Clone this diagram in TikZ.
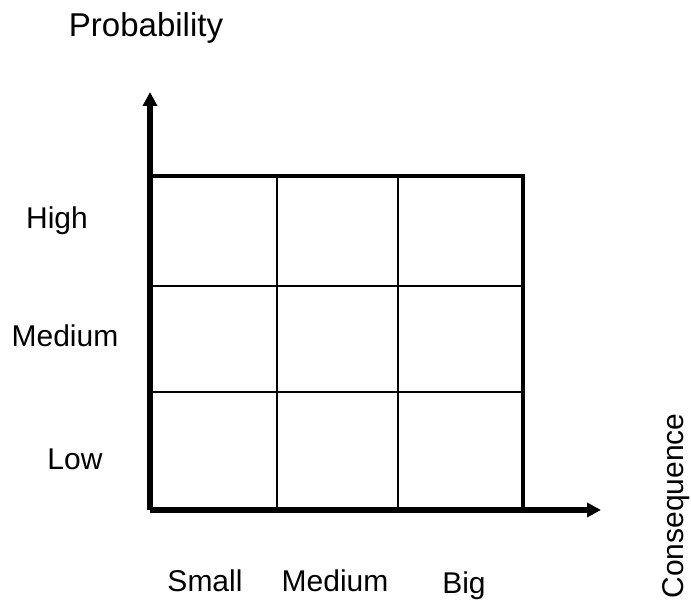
\documentclass[tikz,border=0pt]{standalone}
\usepackage{fontspec}
\setmainfont{Liberation Sans}
\usetikzlibrary{arrows.meta,positioning}

\begin{document}
\begin{tikzpicture}[
  x=0.5pt, y=-0.5pt,
  axis/.style  = {line width=2.7pt, -{Triangle[length=7pt,width=7pt]}},
  frame/.style = {line width=2pt},
  cell/.style  = {line width=0.8pt},
  lbl/.style   = {font=\fontsize{15}{18}\selectfont, anchor=base,
                  inner sep=0pt},
]
\useasboundingbox (0,0) rectangle (691,613);
\coordinate (origin) at (150,510);
\coordinate (ytip)   at (150,92);
\coordinate (xtip)   at (601,510);
\coordinate (tl)     at (150,176);
\coordinate (tr)     at (523,176);
\coordinate (br)     at (523,510);
% grid cells
\foreach \x in {277,398}
  \draw[cell] (\x,176) -- (\x,510);
\foreach \y in {286,392}
  \draw[cell] (150,\y) -- (523,\y);
\draw[frame] (tl) -- (tr) -- (br);
% axes
\draw[axis] (origin) -- (ytip);
\draw[axis] (origin) -- (xtip);
% labels
\node[lbl, font=\fontsize{16.5}{20}\selectfont] (prob) at (146,37) {Probability};
\node[lbl] (high) at (57,229)  {High};
\node[lbl] (pmed) at (65,347)  {Medium};
\node[lbl] (low)  at (75,470)  {Low};
\node[lbl] (small) at (205,592) {Small};
\node[lbl] (cmed)  at (335,592) {Medium};
\node[lbl] (big)   at (464,594) {Big};
\node[lbl, rotate=90] (cons) at (683,506) {Consequence};
\end{tikzpicture}
\end{document}
